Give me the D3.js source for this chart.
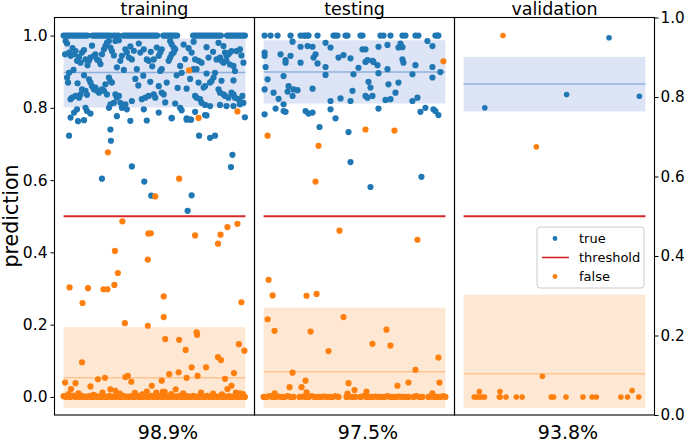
<!DOCTYPE html>
<html><head><meta charset="utf-8">
<script src="https://cdn.jsdelivr.net/npm/d3@7"></script>
<style>body{margin:0;background:#fff} text{font-family:"DejaVu Sans",sans-serif;fill:#000}</style>
</head><body><svg id="c" width="685" height="441"></svg>
<script>
// ---------------- data ----------------
const panels = ["training", "testing", "validation"];
const accuracy = ["98.9%", "97.5%", "93.8%"];
const sampleMax = [365, 182, 60];          // last sample index per panel
const threshold = 0.5;
const yTicks = [0.0, 0.2, 0.4, 0.6, 0.8, 1.0];
const rightTicks = [0.0, 0.2, 0.4, 0.6, 0.8, 1.0];
const legendLabels = ["true", "threshold", "false"];

// mean +/- band of predictions per class
const trueBandLow  = [0.801, 0.812, 0.790];
const trueBandHigh = [0.992, 0.987, 0.941];
const trueMean     = [0.898, 0.899, 0.866];
const falseBandLow  = [-0.03, -0.03, -0.03];
const falseBandHigh = [0.193, 0.247, 0.283];
const falseMean     = [0.053, 0.070, 0.064];

// [sample index, prediction]
const trainTrue = [
[0,1],[4,1],[8,1],[12,1],[16,1],[20,1],[24,1],[28,1],[32,1],[36,1],[40,1],[44,1],[48,1],
[58,1],[62,1],[66,1],[70,1],[74,1],[78,1],[82,1],[86,1],[90,1],[94,1],
[100,1],[105,1],[110,1],
[120,1],[124,1],[128,1],[132,1],[136,1],[140,1],[144,1],[148,1],[152,1],[156,1],[160,1],[164,1],[168,1],[172,1],[176,1],[180,1],[184,1],[188,1],
[200,1],[204,1],[208,1],[212,1],[216,1],[220,1],[224,1],[228,1],
[260,1],[264,1],[268,1],[272,1],[276,1],[280,1],[284,1],[288,1],[292,1],[296,1],[300,1],[304,1],[308,1],[312,1],[316,1],
[328,1],[332,1],[336,1],[340,1],[344,1],[348,1],[352,1],[356,1],[360,1],[364,1],
[4,0.985],[7,0.978],[3,0.948],[11,0.953],[14,0.944],[21,0.948],[24,0.957],[27,0.930],[31,0.941],[37,0.953],[44,0.934],[51,0.930],[54,0.939],[61,0.944],[64,0.948],[67,0.934],[71,0.930],[77,0.948],[81,0.962],[84,0.971],[87,0.980],[91,0.985],[94,0.967],[97,0.957],[104,0.985],[111,0.987],[114,0.930],[117,0.944],[124,0.962],[127,0.953],[131,0.939],[137,0.934],[147,0.907],[154,0.953],[167,0.934],[171,0.930],[181,0.934],
[18,0.965],[34,0.925],[41,0.960],[48,0.918],[57,0.972],[74,0.921],[101,0.945],[107,0.912],[134,0.970],[141,0.958],[151,0.978],[161,0.962],[175,0.955],[178,0.915],
[11,0.897],[7,0.884],[9,0.870],[51,0.879],[54,0.870],[57,0.860],[61,0.851],[64,0.856],[67,0.847],[71,0.842],[77,0.851],[81,0.847],[87,0.837],[91,0.884],[94,0.874],[97,0.870],[84,0.865],[37,0.851],[44,0.847],[34,0.837],[31,0.828],[24,0.833],[17,0.828],[14,0.824],[47,0.836],[104,0.837],[107,0.828],[111,0.833],[101,0.814],[94,0.810],[91,0.800],[114,0.814],[117,0.800],[124,0.810],[127,0.796],[137,0.819],[157,0.824],[164,0.828],[171,0.833],[181,0.837],[184,0.828],
[121,0.905],[144,0.880],[150,0.862],[160,0.889],[174,0.872],[20,0.905],[28,0.868],[41,0.890],
[27,0.796],[21,0.787],[14,0.773],[44,0.800],[47,0.791],[54,0.784],[107,0.777],[134,0.764],[161,0.796],[167,0.765],
[11,0.723],[94,0.740],[95,0.709],[77,0.604],[137,0.638],[162,0.596],[176,0.557],[257,0.558],[249,0.515],[272,0.723],[294,0.717],[304,0.723],[339,0.670],[336,0.636],[364,0.774],[29,0.763],[41,0.766],[217,0.772],[247,0.767],[256,0.767],[287,0.779],
[214,0.985],[217,0.976],[221,0.967],[224,0.962],[221,0.953],[217,0.948],[214,0.939],[211,0.930],[197,0.962],[194,0.953],[191,0.944],[187,0.967],
[311,0.980],[321,0.971],[324,0.953],[327,0.944],[331,0.948],[334,0.953],[337,0.957],[347,0.957],[354,0.962],[314,0.939],[317,0.930],[321,0.925],[327,0.930],[334,0.920],[341,0.916],
[257,0.953],[264,0.934],[271,0.930],[277,0.925],[291,0.939],[307,0.934],
[197,0.907],[194,0.902],[234,0.916],[237,0.897],[261,0.907],[267,0.907],[304,0.897],[301,0.884],[297,0.874],[294,0.870],[344,0.902],[341,0.876],
[191,0.860],[197,0.842],[201,0.837],[247,0.853],[284,0.860],[281,0.856],[311,0.851],[314,0.842],[321,0.837],[324,0.833],[331,0.828],[337,0.842],[341,0.837],[344,0.828],[351,0.824],[354,0.819],[359,0.833],[361,0.814],[264,0.833],[267,0.828],[274,0.824],[277,0.814],[284,0.808],[294,0.805],[314,0.808],[327,0.805],[341,0.805],[354,0.810],
[191,0.787],[234,0.800],[237,0.793],[264,0.789],[284,0.780],[247,0.771],[254,0.768],[217,0.771],
[241,0.975],[251,0.965],[261,0.983],[287,0.968],[300,0.955],[244,0.935],[227,0.890],[207,0.870],[229,0.855],[254,0.880],[271,0.870],[287,0.895],[317,0.875],[357,0.945],[361,0.925],[204,0.815],[224,0.812]
];
const trainFalse = [
[252,0.904],[271,0.772],[349,0.790],[89,0.677],[232,0.604],[184,0.555],[118,0.486],
[12,0.303],[38,0.260],[49,0.301],[80,0.298],[88,0.298],[102,0.310],[103,0.404],[109,0.343],[123,0.204],[170,0.452],[175,0.453],[169,0.380],[169,0.197],[201,0.278],[201,0.221],[204,0.160],[232,0.158],[245,0.130],[264,0.447],[267,0.179],[268,0.172],[257,0.082],[286,0.082],[310,0.424],[315,0.449],[329,0.470],[349,0.479],[357,0.262],[310,0.110],[316,0.102],[352,0.146],[363,0.128],[37,0.096],
[3,0.040],[15,0.022],[24,0.038],[54,0.029],[69,0.049],[83,0.053],[94,0.021],[104,0.017],[124,0.055],[129,0.058],[136,0.042],[167,0.015],[177,0.031],[197,0.045],[199,0.014],[203,0.014],[212,0.063],[225,0.021],[231,0.068],[247,0.053],[269,0.058],[324,0.050],[329,0.022],[337,0.031],[342,0.066],[354,0.010],
[10,0.008],[30,0.010],[60,0.006],[78,0.012],[113,0.009],[143,0.011],[158,0.007],[186,0.012],[216,0.008],[240,0.010],[276,0.012],[300,0.009],[318,0.007],[346,0.012],[360,0.008],
[0,0.002],[4,0.000],[8,0.003],[12,0.000],[16,0.001],[20,0.004],[24,0.000],[28,0.002],[32,0.000],[36,0.003],[40,0.000],[44,0.001],[48,0.000],[52,0.002],[56,0.000],[60,0.000],[64,0.003],[68,0.000],[72,0.001],[76,0.000],[80,0.002],[84,0.000],[88,0.000],[92,0.003],[96,0.000],[100,0.001],[104,0.000],[108,0.002],[112,0.000],[116,0.000],[120,0.003],[124,0.000],[128,0.001],[132,0.000],[136,0.002],[140,0.000],[144,0.000],[148,0.003],[152,0.000],[156,0.001],[160,0.000],[164,0.002],[168,0.000],[172,0.000],[176,0.003],[180,0.000],[184,0.001],[188,0.000],[192,0.002],[196,0.000],[200,0.000],[204,0.003],[208,0.000],[212,0.001],[216,0.000],[220,0.002],[224,0.000],[228,0.000],[232,0.003],[236,0.000],[240,0.001],[244,0.000],[248,0.002],[252,0.000],[256,0.000],[260,0.003],[264,0.000],[268,0.001],[272,0.000],[276,0.002],[280,0.000],[284,0.000],[288,0.003],[292,0.000],[296,0.001],[300,0.000],[304,0.002],[308,0.000],[312,0.000],[316,0.003],[320,0.000],[324,0.001],[328,0.000],[332,0.002],[336,0.000],[340,0.000],[344,0.003],[348,0.000],[352,0.001],[356,0.000],[360,0.002],[364,0.000]
];

const testTrue = [
[1,1],[7,1],[14,1],[27,1],[37,1],[40,1],[42,1],[44,1],[45,1],[54,1],[70,1],[72,1],[74,1],[82,1],[84,1],[97,1],[99,1],[117,1],[120,1],[127,1],[139,1],[142,1],[152,1],[155,1],[172,1],[174,1],[175,1],
[29,0.983],[37,0.969],[44,0.971],[49,0.969],[62,0.980],[67,0.967],[99,0.962],[102,0.962],[115,0.969],[124,0.974],[137,0.978],[139,0.968],[135,0.967],[164,0.985],[169,0.971],
[1,0.953],[1,0.944],[17,0.948],[22,0.932],[22,0.925],[27,0.944],[37,0.925],[50,0.939],[52,0.948],[54,0.923],[75,0.939],[80,0.946],[87,0.937],[102,0.927],[104,0.932],[109,0.930],[110,0.927],[114,0.918],[139,0.934],[140,0.925],[152,0.918],
[2,0.913],[4,0.879],[20,0.888],[62,0.913],[62,0.891],[90,0.893],[95,0.911],[115,0.896],[124,0.907],[149,0.893],[169,0.913],[169,0.884],[177,0.899],[105,0.872],
[1,0.851],[10,0.842],[15,0.825],[20,0.810],[24,0.845],[25,0.860],[29,0.833],[30,0.851],[34,0.849],[49,0.853],[67,0.819],[77,0.826],[89,0.847],[87,0.819],[102,0.833],[104,0.828],[107,0.856],[109,0.833],[122,0.822],[127,0.824],[125,0.865],[132,0.842],[135,0.870],[149,0.819],[154,0.828],
[1,0.782],[12,0.798],[20,0.791],[22,0.789],[42,0.791],[45,0.784],[49,0.787],[67,0.796],[72,0.771],[115,0.798],[157,0.789],[162,0.800],[170,0.796],[172,0.791],[175,0.780],
[56,0.747],[85,0.733],[87,0.650],[107,0.581],[158,0.609]
];
const testFalse = [
[4,0.723],[55,0.695],[102,0.740],[131,0.737],[52,0.596],[180,0.929],
[76,0.460],[154,0.435],[5,0.324],[9,0.281],[43,0.280],[53,0.285],[4,0.215],[11,0.183],[47,0.181],[80,0.221],[65,0.127],[123,0.186],[109,0.147],[127,0.142],[175,0.109],[29,0.067],[152,0.075],[134,0.031],[145,0.040],[176,0.040],[85,0.038],[91,0.019],[103,0.015],[26,0.027],[38,0.027],[42,0.045],[43,0.013],[11,0.010],[169,0.010],[84,0.009],
[0,0],[3,0],[6,0.002],[9,0],[12,0],[15,0.001],[18,0],[21,0],[24,0.002],[27,0],[30,0],[36,0],[39,0.001],[42,0],[45,0],[48,0.002],[51,0],[54,0],[57,0],[60,0.001],[63,0],[66,0],[69,0],[72,0.002],[75,0],[83,0],[86,0.001],[89,0],[92,0],[97,0],[100,0.002],[103,0],[106,0],[109,0],[112,0.001],[115,0],[118,0],[121,0],[124,0.002],[127,0],[130,0],[133,0],[136,0.001],[139,0],[142,0],[145,0],[150,0],[153,0.002],[156,0],[159,0],[165,0],[168,0.001],[171,0],[174,0],[177,0],[180,0.002],[182,0]
];

const valTrue = [[7,0.800],[34,0.837],[48,0.994],[58,0.832]];
const valFalse = [
[13,1.0],[24,0.692],[26,0.057],
[3.5,0],[4.4,0],[5.2,0],[6.1,0],[6.9,0],[5.2,0.015],[11.8,0],[12.1,0],[12,0.015],[14,0],[17.4,0],[19.3,0],[28.9,0],[29.7,0],[33.8,0],[39.4,0],[42.4,0],[43.8,0],[51.9,0],[54.1,0],[55.6,0.018],[57.8,0]
];

const trueSets = [trainTrue, testTrue, valTrue];
const falseSets = [trainFalse, testFalse, valFalse];

// ---------------- drawing ----------------
const C = {blue:"#1f77b4", orange:"#ff7f0e", red:"#d62728",
  blueBand:"#dde4f5", blueLine:"#8fb0dc", orangeBand:"#fee8d3", orangeLine:"#fdc48f"};
const svg = d3.select("#c");
const plotTop = 17.5, plotBottom = 415, left0 = 54.5, pw = 200;
const y = d3.scaleLinear().domain([-0.05, 1.05]).range([plotBottom, plotTop]);
const yR = d3.scaleLinear().domain([0, 1]).range([plotBottom, plotTop]);
const pad = pw * 0.05 / 1.1;

panels.forEach((name, i) => {
  const L = left0 + i * pw;
  const x = d3.scaleLinear().domain([0, sampleMax[i]]).range([L + pad, L + pw - pad]);
  const g = svg.append("g");
  const x0 = x(0), x1 = x(sampleMax[i]);
  g.append("rect").attr("x", x0).attr("width", x1 - x0)
    .attr("y", y(trueBandHigh[i])).attr("height", y(trueBandLow[i]) - y(trueBandHigh[i]))
    .attr("fill", C.blueBand);
  g.append("rect").attr("x", x0).attr("width", x1 - x0)
    .attr("y", y(falseBandHigh[i])).attr("height", y(falseBandLow[i]) - y(falseBandHigh[i]))
    .attr("fill", C.orangeBand);
  g.append("line").attr("x1", x0).attr("x2", x1).attr("y1", y(trueMean[i])).attr("y2", y(trueMean[i]))
    .attr("stroke", C.blueLine).attr("stroke-width", 1.5);
  g.append("line").attr("x1", x0).attr("x2", x1).attr("y1", y(falseMean[i])).attr("y2", y(falseMean[i]))
    .attr("stroke", C.orangeLine).attr("stroke-width", 1.5);
  g.append("line").attr("x1", x0).attr("x2", x1).attr("y1", y(threshold)).attr("y2", y(threshold))
    .attr("stroke", C.red).attr("stroke-width", 2);
  const r = i === 2 ? 2.8 : 3.1;
  g.selectAll(".t").data(trueSets[i]).join("circle").attr("class", "t")
    .attr("cx", d => x(d[0])).attr("cy", d => y(d[1])).attr("r", r).attr("fill", C.blue);
  g.selectAll(".f").data(falseSets[i]).join("circle").attr("class", "f")
    .attr("cx", d => x(d[0])).attr("cy", d => y(d[1])).attr("r", r).attr("fill", C.orange);
  g.append("rect").attr("x", L).attr("y", plotTop).attr("width", pw).attr("height", plotBottom - plotTop)
    .attr("fill", "none").attr("stroke", "#000").attr("stroke-width", 1.1);
  svg.append("text").attr("x", L + pw / 2).attr("y", 15).attr("text-anchor", "middle")
    .attr("font-size", 17.5).text(name);
  svg.append("text").attr("x", L + pw / 2 + 13.5).attr("y", 438.5).attr("text-anchor", "middle")
    .attr("font-size", 19).text(accuracy[i]);
});

const ax = svg.append("g").attr("transform", `translate(${left0},0)`)
  .call(d3.axisLeft(y).tickValues(yTicks).tickFormat(d3.format(".1f")).tickSize(4).tickPadding(3));
ax.select(".domain").remove();
ax.selectAll("text").attr("font-size", 15.5).attr("font-family", "DejaVu Sans");
const axR = svg.append("g").attr("transform", `translate(${left0 + 3 * pw},0)`)
  .call(d3.axisRight(yR).tickValues(rightTicks).tickFormat(d3.format(".1f")).tickSize(4).tickPadding(2));
axR.select(".domain").remove();
axR.selectAll("text").attr("font-size", 15.2).attr("font-family", "DejaVu Sans");

svg.append("text").attr("transform", `translate(18,216) rotate(-90)`).attr("text-anchor", "middle")
  .attr("font-size", 20.5).text("prediction");

const lg = svg.append("g").attr("transform", "translate(537,227)");
lg.append("rect").attr("width", 107).attr("height", 61).attr("rx", 3)
  .attr("fill", "#fff").attr("fill-opacity", 0.85).attr("stroke", "#cccccc");
const legendColors = [C.blue, C.red, C.orange];
legendLabels.forEach((lab, k) => {
  const cy = 11.5 + k * 19;
  if (k === 1) lg.append("line").attr("x1", 5).attr("x2", 32).attr("y1", cy).attr("y2", cy)
      .attr("stroke", legendColors[k]).attr("stroke-width", 1.6);
  else lg.append("circle").attr("cx", 18).attr("cy", cy).attr("r", 2.4).attr("fill", legendColors[k]);
  lg.append("text").attr("x", 42).attr("y", cy + 4.5).attr("font-size", 13).text(lab);
});
</script></body></html>
